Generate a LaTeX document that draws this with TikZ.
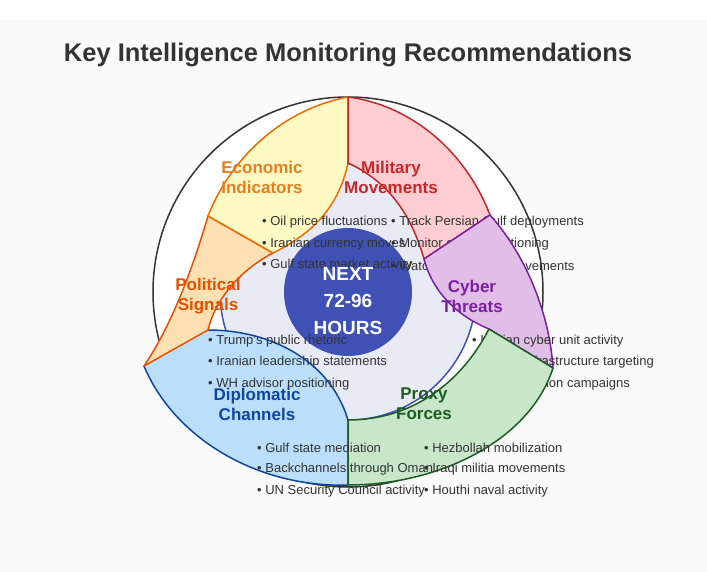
\documentclass[tikz,border=0pt]{standalone}
\usepackage{fontspec}
\setmainfont{Liberation Sans}
\definecolor{cind}{RGB}{63,81,181}
\definecolor{cinl}{RGB}{232,234,246}
\definecolor{dipd}{RGB}{13,71,161}
\definecolor{dipl}{RGB}{187,222,251}
\definecolor{pold}{RGB}{230,81,0}
\definecolor{poll}{RGB}{255,224,178}
\definecolor{ecod}{RGB}{239,108,0}
\definecolor{ecot}{RGB}{230,126,34}
\definecolor{ecol}{RGB}{255,249,196}
\definecolor{mild}{RGB}{198,40,40}
\definecolor{mill}{RGB}{255,205,210}
\definecolor{cybd}{RGB}{123,31,162}
\definecolor{cybl}{RGB}{225,190,231}
\definecolor{prxd}{RGB}{27,94,32}
\definecolor{prxl}{RGB}{200,230,201}
\begin{document}
\begin{tikzpicture}[x=1pt,y=-1pt,
 seg/.style={line width=1.5pt,line join=round},
 lab/.style={font=\bfseries\fontsize{17}{20}\selectfont,align=center},
 bul/.style={anchor=west,font=\fontsize{13}{15}\selectfont,text=black!80,inner sep=0pt}]
\useasboundingbox (0,0) rectangle (707,572);
\fill[black!2] (0,0) rectangle (707,572);
\fill[white] (0,0) rectangle (707,20);
\node[font=\bfseries\fontsize{25.5}{30}\selectfont,text=black!80] (title) at (348,55) {Key Intelligence Monitoring Recommendations};
\draw[line width=1.5pt,black!80,fill=white] (348,292) circle[radius=195];
\draw[line width=1.5pt,draw=cind,fill=cinl] (348,292) circle[radius=128];
% diplomatic
\draw[seg,draw=dipd,fill=dipl]
 (348,420) -- (348,485) .. controls (260,488) and (175,440) .. (144,366)
 .. controls (170,345) and (190,335) .. (208,330) .. controls (270,330) and (330,360) .. cycle;
% political
\draw[seg,draw=pold,fill=poll]
 (144,366) .. controls (175,320) and (195,260) .. (208,216) -- (273,253)
 .. controls (240,270) and (215,300) .. (208,330) -- cycle;
% economic
\draw[seg,draw=ecod,fill=ecol]
 (348,97) .. controls (280,110) and (230,160) .. (208,216) -- (273,253)
 .. controls (320,230) and (340,200) .. (348,163) -- cycle;
% military
\draw[seg,draw=mild,fill=mill]
 (348,97) .. controls (410,105) and (465,150) .. (490,215) -- (424,259)
 .. controls (410,210) and (385,180) .. (348,163) -- cycle;
\fill[cind] (348,292) circle[radius=64];
\node[lab,text=ecot] (econ) at (262,177) {Economic\\Indicators};
\node[lab,text=mild] (mil) at (391,177) {Military\\Movements};
\foreach \t [count=\i] in {Oil price fluctuations,Iranian currency moves,Gulf state market activity}
 \node[bul] (e\i) at (262,201+21.5*\i) {• \t};
\foreach \t [count=\i] in {Track Persian Gulf deployments,Monitor carrier positioning,Watch missile unit movements}
 \node[bul] (m\i) at (391,201+21.5*\i) {• \t};
% cyber
\draw[seg,draw=cybd,fill=cybl]
 (490,215) .. controls (530,260) and (550,320) .. (553,368) -- (489,329)
 .. controls (455,315) and (432,290) .. (424,259) -- cycle;
\node[lab,text=cybd] (cyb) at (472,296) {Cyber\\Threats};
\foreach \t [count=\i] in {Iranian cyber unit activity,Critical infrastructure targeting,Disinformation campaigns}
 \node[bul] (c\i) at (472,319.5+21.5*\i) {• \t};
% proxy
\draw[seg,draw=prxd,fill=prxl]
 (489,329) -- (553,368) .. controls (530,440) and (440,485) .. (348,485) -- (348,420)
 .. controls (410,420) and (460,385) .. cycle;
% center
\node[font=\bfseries\fontsize{19}{27}\selectfont,text=white,align=center] (ctr) at (348,301) {NEXT\\72-96\\HOURS};
\node[lab,text=pold] (pol) at (208,296) {Political\\Signals};
\foreach \t [count=\i] in {Trump's public rhetoric,Iranian leadership statements,WH advisor positioning}
 \node[bul] (p\i) at (208,319.5+21.5*\i) {• \t};
\node[lab,text=dipd] (dip) at (257,404) {Diplomatic\\Channels};
\node[lab,text=prxd] (prx) at (424,404) {Proxy\\Forces};
\foreach \t [count=\i] in {Gulf state mediation,Backchannels through Oman,UN Security Council activity}
 \node[bul] (d\i) at (257,426.5+21.5*\i) {• \t};
\foreach \t [count=\i] in {Hezbollah mobilization,Iraqi militia movements,Houthi naval activity}
 \node[bul] (x\i) at (424,426.5+21.5*\i) {• \t};
\end{tikzpicture}
\end{document}
